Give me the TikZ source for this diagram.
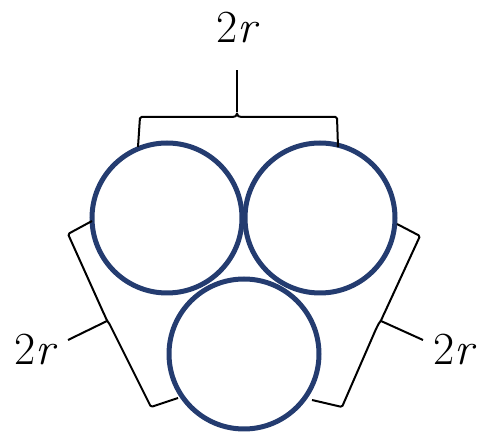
\documentclass[tikz,border=0pt]{standalone}
\usepackage{xcolor}
\definecolor{ringblue}{RGB}{36,60,112}
\newcommand{\tworlab}{2\kern0.5pt\textit{r}}
\begin{document}
\begin{tikzpicture}[x=1pt,y=-1pt,
  ring/.style={circle,draw=ringblue,line width=5pt,minimum size=150pt,inner sep=0pt},
  brace/.style={draw=black,line width=2pt,line join=round,rounded corners=1.5pt},
  lab/.style={font=\fontsize{46}{50}\selectfont,inner sep=0pt}]
\useasboundingbox (0,0) rectangle (477,435);
\node[ring] (tl) at (167,218) {};
\node[ring] (tr) at (320,218) {};
\node[ring] (bt) at (244,354) {};
% top brace
\coordinate (ta) at (138,147);
\coordinate (tb) at (338,147);
\coordinate (tc) at (237,112);
\coordinate (tt) at (237,70);
\path[brace] (ta) -- (140,117) -- (231,117) .. controls (235,117) and (237,116) .. (tc)
  .. controls (237,116) and (239,117) .. (243,117) -- (337,117) -- (tb);
\path[brace] (tc) -- (tt);
\node[lab] (ltop) at (238,28) {\tworlab};
% left brace
\coordinate (la) at (92,221);
\coordinate (lb) at (178,398);
\coordinate (lc) at (107,321);
\coordinate (lt) at (68,340);
\path[brace] (la) -- (68,234) -- (104,314) .. controls (106,318) .. (lc)
  .. controls (109,323) .. (112,329) -- (151,407) -- (lb);
\path[brace] (lc) -- (lt);
\node[lab] (lleft) at (36,350) {\tworlab};
% right brace
\coordinate (ra) at (397,224);
\coordinate (rb) at (312,400);
\coordinate (rc) at (381,321);
\coordinate (rt) at (423,340);
\path[brace] (ra) -- (420,236) -- (384,314) .. controls (382,318) .. (rc)
  .. controls (379,323) .. (376,329) -- (342,407) -- (rb);
\path[brace] (rc) -- (rt);
\node[lab] (lright) at (455,350) {\tworlab};
\end{tikzpicture}
\end{document}
